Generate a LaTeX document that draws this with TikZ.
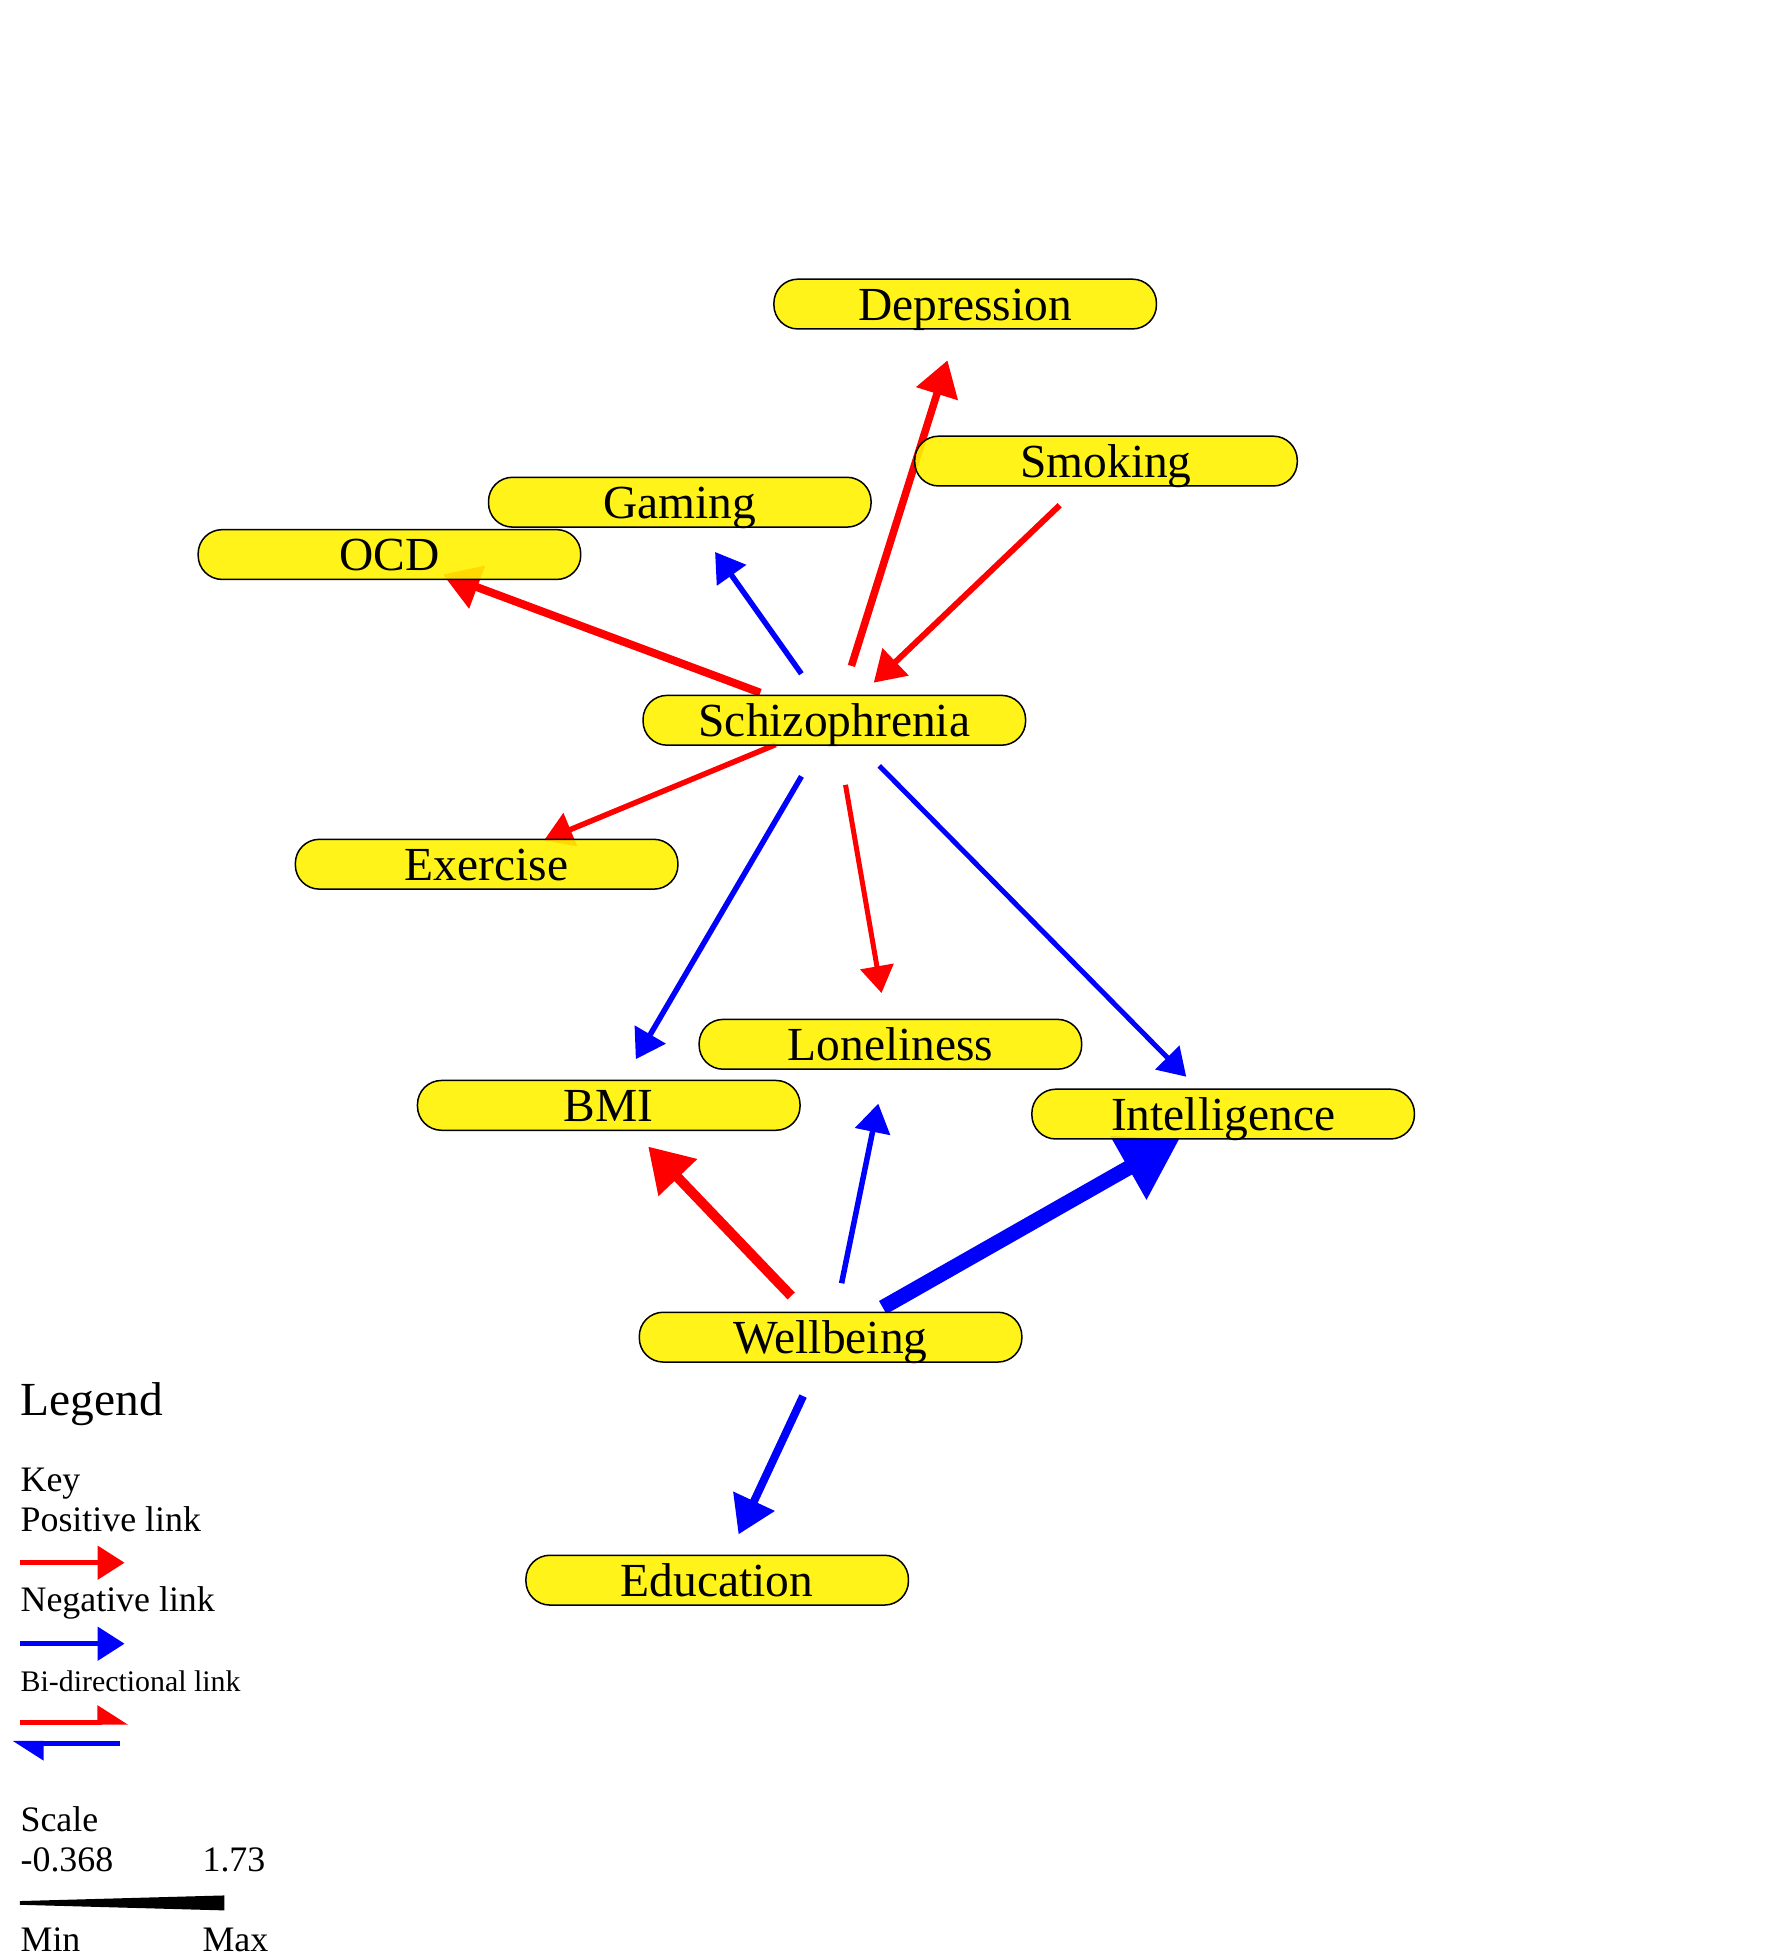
\documentclass[tikz,border=0pt]{standalone}
\usepackage{fontspec}
\setmainfont{Liberation Serif}
\usepackage{tikz}
\usetikzlibrary{arrows.meta,backgrounds}

\tikzset{
  factor/.style={draw=black, line width=0.15mm, fill=yellow, fill opacity=0.9, text opacity=1,
    rounded corners=2.4mm, minimum width=38.25mm, minimum height=4.98mm, inner sep=0pt,
    text height=3.6mm, text depth=0.4mm,
    font=\fontsize{13.5}{16}\selectfont},
  link/.style={-{Triangle[length=1.1mm 3.2,width=1.5mm 3.6]}},
  poslink/.style={link, red},
  neglink/.style={link, blue},
  legtext/.style={anchor=base west, inner sep=0pt, font=\fontsize{10.2}{12}\selectfont},
}

\begin{document}
\begin{tikzpicture}[x=0.1246mm, y=-0.1246mm]
  \useasboundingbox (0,0) rectangle (1435,1568);

  % factors
  \node[factor] (depr) at (774.5,244) {Depression};
  \node[factor] (smok) at (887.5,370) {Smoking};
  \node[factor] (gaming) at (545.5,403) {Gaming};
  \node[factor] (ocd) at (312.5,445) {OCD};
  \node[factor] (schiz) at (669.5,578) {Schizophrenia};
  \node[factor] (exer) at (390.5,693.5) {Exercise};
  \node[factor] (lonely) at (714.5,838) {Loneliness};
  \node[factor] (bmi) at (488.5,887) {BMI};
  \node[factor] (intel) at (981.5,894) {Intelligence};
  \node[factor] (well) at (666.5,1073) {Wellbeing};
  \node[factor] (edu) at (575.5,1268) {Education};

  % links, under the factors
  \begin{scope}[on background layer]
    \draw[poslink, line width=0.75mm, shorten <=5.7mm, shorten >=5.9mm] (schiz.center) -- (depr.center);
    \draw[poslink, line width=0.6mm, shorten <=6.4mm, shorten >=5.45mm] (smok.center) -- (schiz.center);
    \draw[neglink, line width=0.55mm, shorten <=5.7mm, shorten >=6.1mm] (schiz.center) -- (gaming.center);
    \draw[poslink, line width=0.8mm, shorten <=7.9mm, shorten >=5.7mm] (schiz.center) -- (ocd.center);
    \draw[poslink, line width=0.55mm, shorten <=6.35mm, shorten >=6.2mm] (schiz.center) -- (exer.center);
    \draw[neglink, line width=0.55mm, shorten <=6.5mm, shorten >=5.35mm] (schiz.center) -- (bmi.center);
    \draw[poslink, line width=0.5mm, shorten <=6.55mm, shorten >=5.2mm] (schiz.center) -- (lonely.center);
    \draw[neglink, line width=0.5mm, shorten <=6.4mm, shorten >=5.25mm] (schiz.center) -- (intel.center);
    \draw[poslink, line width=1mm, shorten <=5.7mm, shorten >=5.7mm] (well.center) -- (bmi.center);
    \draw[neglink, line width=0.55mm, shorten <=5.5mm, shorten >=6.05mm] (well.center) -- (lonely.center);
    \draw[neglink, line width=1.5mm, shorten <=6mm, shorten >=5mm] (well.center) -- (intel.center);
    \draw[neglink, line width=0.8mm, shorten <=6.5mm, shorten >=5.05mm] (well.center) -- (edu.center);
  \end{scope}

  % legend
  \node[legtext, font=\fontsize{13.5}{16}\selectfont] (legend) at (16,1136) {Legend};
  \node[legtext] (key) at (16,1197) {Key};
  \node[legtext] (postxt) at (16,1229) {Positive link};
  \coordinate (posa) at (16,1254);
  \coordinate (posb) at (100,1254);
  \draw[poslink, line width=0.5mm] (posa) -- (posb);
  \node[legtext] (negtxt) at (16,1293) {Negative link};
  \coordinate (nega) at (16,1319);
  \coordinate (negb) at (100,1319);
  \draw[neglink, line width=0.5mm] (nega) -- (negb);
  \node[legtext, font=\fontsize{8.5}{10}\selectfont] (bitxt) at (16,1357) {Bi-directional link};
  \coordinate (bia) at (16,1382);
  \coordinate (bib) at (103,1382);
  \coordinate (bic) at (96,1399);
  \coordinate (bid) at (10,1399);
  \draw[red, line width=0.5mm, -{Triangle[length=1.1mm 3.2,width=1.5mm 3.6,left]}] (bia) -- (bib);
  \draw[blue, line width=0.5mm, -{Triangle[length=1.1mm 3.2,width=1.5mm 3.6,left]}] (bic) -- (bid);

  \node[legtext] (scale) at (16,1470) {Scale};
  \node[legtext] (minval) at (16,1502) {-0.368};
  \node[legtext] (maxval) at (162,1502) {1.73};
  \fill[black] (16,1525.5) -- (180,1521) -- (180,1533) -- (16,1528.5) -- cycle;
  \node[legtext] (mintxt) at (16,1566) {Min};
  \node[legtext] (maxtxt) at (162,1566) {Max};
\end{tikzpicture}
\end{document}
